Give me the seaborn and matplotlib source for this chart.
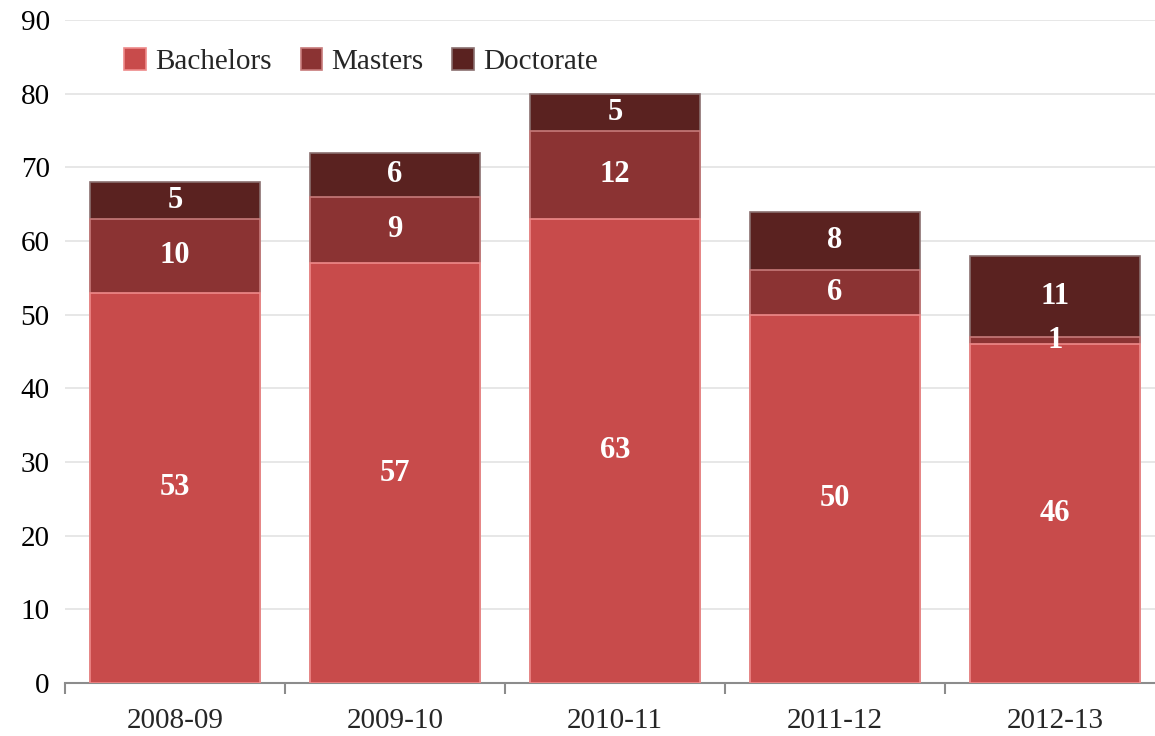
import matplotlib
matplotlib.use('Agg')
import matplotlib.pyplot as plt
import numpy as np
import pandas as pd
import seaborn as sns
from matplotlib.ticker import FixedLocator

years = ['2008-09', '2009-10', '2010-11', '2011-12', '2012-13']
bachelors = [53, 57, 63, 50, 46]
masters = [10, 9, 12, 6, 1]
doctorate = [5, 6, 5, 8, 11]

colors = {'Bachelors': '#C84B4B', 'Masters': '#8B3333', 'Doctorate': '#5A2220'}

df = pd.DataFrame({'Year': years, 'Bachelors': bachelors,
                   'Masters': masters, 'Doctorate': doctorate})
df['bm'] = df['Bachelors'] + df['Masters']
df['total'] = df['bm'] + df['Doctorate']

sns.set_style('white')
plt.rcParams['font.family'] = ['Liberation Serif', 'DejaVu Serif']

fig, ax = plt.subplots(figsize=(11.55, 7.36), dpi=100)
# plot area runs slightly past the right edge, as in the original
ax.set_position([65 / 1155, 53 / 736, 1100 / 1155, 663 / 736])

w = 0.775
sns.barplot(x='Year', y='total', data=df, color=colors['Doctorate'], width=w,
            saturation=1, edgecolor='#8a6f6f', linewidth=1.2, ax=ax,
            label='Doctorate', zorder=2)
sns.barplot(x='Year', y='bm', data=df, color=colors['Masters'], width=w,
            saturation=1, edgecolor='#c77a7a', linewidth=1.2, ax=ax,
            label='Masters', zorder=3)
sns.barplot(x='Year', y='Bachelors', data=df, color=colors['Bachelors'], width=w,
            saturation=1, edgecolor='#ee8a8a', linewidth=1.2, ax=ax,
            label='Bachelors', zorder=4)

# data labels
for i in range(len(years)):
    segs = [(0, bachelors[i]), (bachelors[i], masters[i]),
            (bachelors[i] + masters[i], doctorate[i])]
    for b, v in segs:
        ax.text(i, b + v / 2, str(v), ha='center', va='center', color='white',
                fontsize=22, fontweight='bold', zorder=6)

ax.set_ylim(0, 90)
ax.set_xlim(-0.5, len(years) - 0.5)
ax.set_yticks(range(0, 91, 10))
ax.yaxis.grid(True, color='#e3e3e3', linewidth=1.2, zorder=0)
ax.set_axisbelow(True)
ax.set_xlabel('')
ax.set_ylabel('')
for s in ['top', 'right', 'left']:
    ax.spines[s].set_visible(False)
ax.spines['bottom'].set_color('#8c8c8c')
ax.spines['bottom'].set_linewidth(1.5)
ax.tick_params(axis='y', length=0, labelsize=21, pad=11, colors='black')
ax.tick_params(axis='x', which='major', length=0, labelsize=21, pad=18)
ax.xaxis.set_minor_locator(FixedLocator(np.arange(-0.5, len(years), 1.0)))
ax.tick_params(axis='x', which='minor', bottom=True, length=8, width=1.5,
               color='#8c8c8c', direction='out')

handles, labels = ax.get_legend_handles_labels()
order = [labels.index(n) for n in ['Bachelors', 'Masters', 'Doctorate']]
ax.legend([handles[k] for k in order], ['Bachelors', 'Masters', 'Doctorate'],
          loc='upper left', bbox_to_anchor=(0.03, 0.997), ncol=3, frameon=False,
          fontsize=21, handlelength=0.75, handleheight=0.75, handletextpad=0.3,
          columnspacing=1.0)

fig.savefig('out.png', dpi=100)
